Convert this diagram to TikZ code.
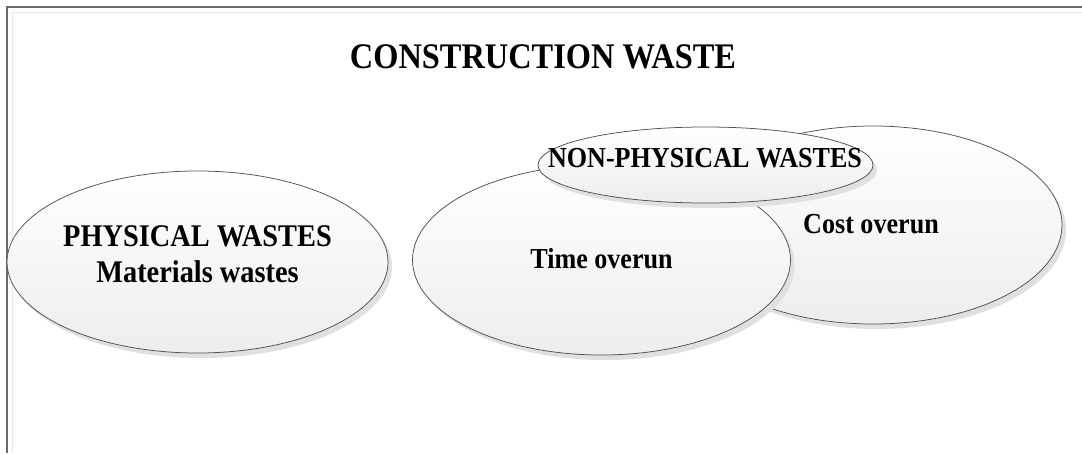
\documentclass[tikz,border=0pt]{standalone}
\usepackage{fontspec}
\setmainfont{Liberation Serif}[FakeStretch=0.9]
\usetikzlibrary{shapes.geometric,shadows}
\definecolor{edgegray}{HTML}{505050}
\definecolor{framegray}{HTML}{6A6A6A}
\definecolor{innergray}{HTML}{E6E6E6}
\tikzset{
  blob/.style={ellipse, draw=edgegray, line width=0.75pt, inner sep=0pt, outer sep=0pt,
    top color=white, bottom color=black!7,
    drop shadow={shadow xshift=4pt, shadow yshift=-5pt, fill=black!12, opacity=1}},
  label/.style={font=\bfseries\fontsize{29}{34}\selectfont, anchor=base, inner sep=0pt},
  biglabel/.style={label, font=\bfseries\fontsize{31.5}{36}\selectfont},
  heading/.style={font=\bfseries\fontsize{36}{40}\selectfont, anchor=base, inner sep=0pt}
}
\begin{document}
\begin{tikzpicture}[x=1pt, y=-1pt]
  \useasboundingbox (0,0) rectangle (1082,453);
  \fill[white] (0,0) rectangle (1082,453);
  % page frame
  \draw[innergray, line width=1pt] (12,453) -- (12,12) -- (1082,12);
  \draw[framegray, line width=1.4pt] (7,453) -- (7,7) -- (1082,7);

  \node[heading] (title) at (543,68) {CONSTRUCTION WASTE};

  % ellipses, back to front
  \node[blob, minimum width=381pt, minimum height=182pt] (phys) at (197.5,262) {};
  \node[blob, minimum width=378pt, minimum height=198pt] (cost) at (873,225) {};
  \node[blob, minimum width=378pt, minimum height=190pt] (time) at (601.5,260) {};
  \node[blob, minimum width=335pt, minimum height=76pt] (nonphys) at (705.5,165) {};

  % texts
  \node[biglabel] (physA) at (197.5,246) {PHYSICAL WASTES};
  \node[biglabel] (physB) at (197.5,282) {Materials wastes};
  \node[label] (timeT) at (601.5,268) {Time overun};
  \node[label] (costT) at (871,233) {Cost overun};
  \node[label] (nonT) at (705,167) {NON-PHYSICAL WASTES};
\end{tikzpicture}
\end{document}
